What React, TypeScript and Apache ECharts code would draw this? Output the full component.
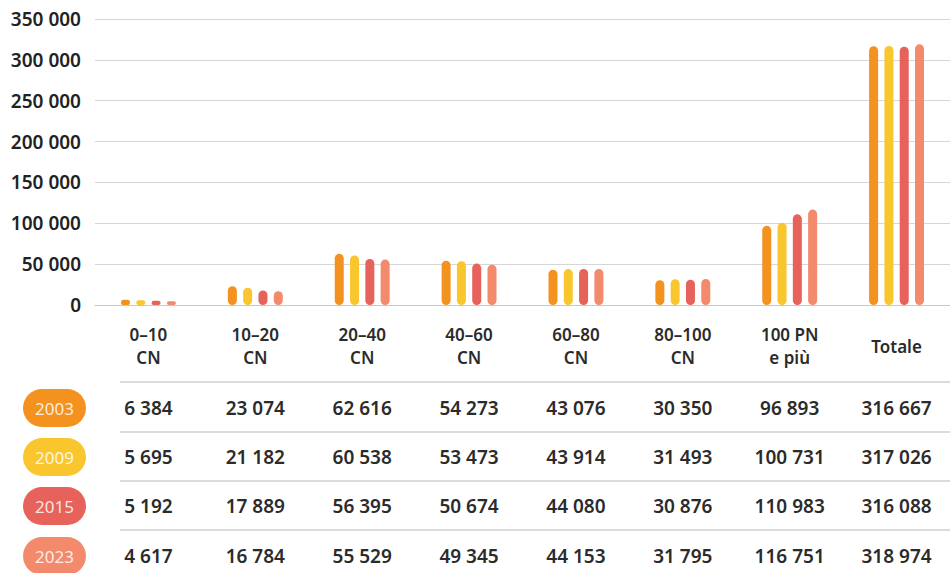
import React, { useEffect, useRef } from "react";
import * as echarts from "echarts";

const categories = ["0–10\nCN", "10–20\nCN", "20–40\nCN", "40–60\nCN", "60–80\nCN", "80–100\nCN", "100 PN\ne più", "Totale"];
const years = ["2003", "2009", "2015", "2023"];
const v2003 = [6384, 23074, 62616, 54273, 43076, 30350, 96893, 316667];
const v2009 = [5695, 21182, 60538, 53473, 43914, 31493, 100731, 317026];
const v2015 = [5192, 17889, 56395, 50674, 44080, 30876, 110983, 316088];
const v2023 = [4617, 16784, 55529, 49345, 44153, 31795, 116751, 318974];
const yTicks = [0, 50000, 100000, 150000, 200000, 250000, 300000, 350000];

const seriesValues = [v2003, v2009, v2015, v2023];
const colors = ["#F49220", "#F9C62E", "#E6625A", "#F38A6C"];
const FONT = "'Noto Sans', sans-serif";
const rowY = [408, 457, 506, 556];
const sepY = [382, 432, 481, 530];
const AXIS_Y = 305;

const fmt = (n: number) => String(n).replace(/\B(?=(\d{3})+(?!\d))/g, " ");

export default function App() {
  const ref = useRef<HTMLDivElement>(null);
  useEffect(() => {
    document.body.style.margin = "0";
    const chart = echarts.init(ref.current!, null, { renderer: "svg" });
    const rowAxes = seriesValues.map((vals, k) => ({
      type: "category" as const,
      data: categories,
      gridIndex: 0,
      position: "bottom" as const,
      offset: rowY[k] - AXIS_Y,
      axisLine: { show: false },
      axisTick: { show: false },
      splitLine: { show: false },
      axisLabel: {
        interval: 0,
        margin: 0,
        verticalAlign: "middle" as const,
        fontFamily: FONT,
        fontWeight: 600,
        fontSize: 19,
        color: "#2b2b2b",
        formatter: (_v: string, i: number) => fmt(vals[i]),
      },
    }));
    chart.setOption({
      animation: false,
      grid: { left: 95, top: 19, width: 866, height: AXIS_Y - 19 },
      xAxis: [
        {
          type: "category",
          data: categories,
          axisLine: { show: true, lineStyle: { color: "#c8c8c8", width: 1 } },
          axisTick: { show: false },
          axisLabel: {
            interval: 0,
            margin: 41,
            verticalAlign: "middle",
            lineHeight: 23,
            fontFamily: FONT,
            fontWeight: 600,
            fontSize: 17,
            color: "#2b2b2b",
          },
        },
        ...rowAxes,
      ],
      yAxis: {
        type: "value",
        min: 0,
        max: 350000,
        interval: 50000,
        axisLine: { show: false },
        axisTick: { show: false },
        splitLine: { lineStyle: { color: "#d6d6d6", width: 1 } },
        axisLabel: {
          margin: 14,
          fontFamily: FONT,
          fontWeight: 600,
          fontSize: 19,
          color: "#222",
          formatter: (v: number) => (yTicks.includes(v) ? fmt(v) : ""),
        },
      },
      series: seriesValues.map((vals, k) => ({
        type: "bar",
        name: years[k],
        data: vals,
        xAxisIndex: 0,
        barWidth: 9,
        barGap: "70%",
        itemStyle: { color: colors[k], borderRadius: 4.5 },
      })),
      graphic: [
        ...sepY.map((y) => ({
          type: "line",
          shape: { x1: 120, y1: y, x2: 950, y2: y },
          style: { stroke: "#cfcfcf", lineWidth: 1.5 },
          silent: true,
        })),
        ...years.map((yr, k) => ({
          type: "group",
          x: 23,
          y: rowY[k] - 19,
          children: [
            {
              type: "rect",
              shape: { x: 0, y: 0, width: 63, height: 38, r: 19 },
              style: { fill: colors[k] },
            },
            {
              type: "text",
              x: 31.5,
              y: 19,
              style: {
                text: yr,
                align: "center",
                verticalAlign: "middle",
                fill: "rgba(255,255,255,0.85)",
                fontFamily: FONT,
                fontWeight: 400,
                fontSize: 17,
              },
            },
          ],
        })),
      ],
    });
    return () => chart.dispose();
  }, []);
  return <div ref={ref} style={{ width: 950, height: 573 }} />;
}
